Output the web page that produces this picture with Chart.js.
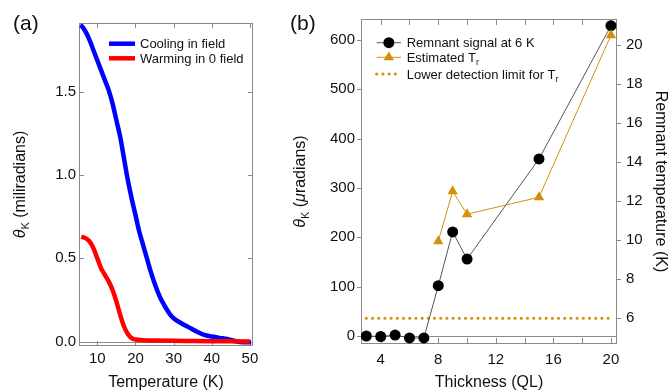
<!DOCTYPE html>
<html>
<head>
<meta charset="utf-8">
<script src="https://cdn.jsdelivr.net/npm/chart.js@4.4.0/dist/chart.umd.min.js"></script>
<style>
  body { margin: 0; background: #fff; }
  #wrap { position: relative; width: 670px; height: 392px; }
  canvas { position: absolute; top: 0; }
</style>
</head>
<body>
<div id="wrap">
  <canvas id="chartA" width="280" height="392" style="left:0"></canvas>
  <canvas id="chartB" width="390" height="392" style="left:280px"></canvas>
</div>
<script>
// ---- panel (a): Kerr rotation vs temperature ----
const tempCooling = [5.5, 6, 7, 8, 9, 10, 11, 12, 13, 14, 15, 16, 17, 18, 19, 20, 21, 22, 23, 24, 25, 26, 27, 28, 29, 30, 32, 34, 36, 38, 40, 42, 44, 46, 48, 50.3];
const coolingSignal = [1.90, 1.895, 1.86, 1.81, 1.75, 1.69, 1.63, 1.57, 1.51, 1.43, 1.33, 1.23, 1.10, 0.97, 0.86, 0.76, 0.66, 0.58, 0.50, 0.42, 0.35, 0.29, 0.24, 0.20, 0.165, 0.14, 0.11, 0.085, 0.06, 0.04, 0.03, 0.022, 0.015, 0.003, -0.004, -0.004];
const tempWarming = [5.8, 7, 8, 9, 10, 11, 12, 13, 14, 15, 16, 17, 18, 19, 20, 22, 25, 30, 35, 40, 45, 50];
const warmingSignal = [0.63, 0.62, 0.60, 0.56, 0.50, 0.44, 0.40, 0.36, 0.31, 0.24, 0.16, 0.09, 0.045, 0.02, 0.012, 0.008, 0.006, 0.004, 0.003, 0.002, 0.001, 0.0];
const seriesLabelsA = ['Cooling in field', 'Warming in 0 field'];
const tempTicks = [10, 20, 30, 40, 50];
const kerrTicksA = [0, 0.5, 1.0, 1.5];

// ---- panel (b): remnant signal vs thickness ----
const thickness = [3, 4, 5, 6, 7, 8, 9, 10, 15, 20];
const remnantSignal = [0, -1, 2, -4, -4, 102, 211, 156, 359, 629];
const trThickness = [8, 9, 10, 15, 20];
const estimatedTr = [9.95, 12.5, 11.33, 12.2, 20.5];
const detectionRange = [3, 20];
const detectionLimit = 6;
const seriesLabelsB = ['Remnant signal at 6 K', 'Estimated T_r', 'Lower detection limit for T_r'];
const thicknessTicks = [4, 6, 8, 10, 12, 14, 16, 18, 20];
const thicknessLabels = ['4', '', '8', '', '12', '', '16', '', '20'];
const remnantTicks = [0, 100, 200, 300, 400, 500, 600];
const trTicks = [6, 8, 10, 12, 14, 16, 18, 20];

const FONT = "'Liberation Sans', Arial, sans-serif";
const GOLD = '#d4900a';
const FRAME = '#8a8a8a';
Chart.defaults.font.family = FONT;
Chart.defaults.color = '#111';

// text with "_x" subscripts and italic greek letters
function runsOf(text) {
  const runs = [];
  for (let i = 0; i < text.length; i++) {
    let ch = text[i], sub = false;
    if (ch === '_') { ch = text[++i]; sub = true; }
    const italic = /[θμ]/.test(ch);
    const last = runs[runs.length - 1];
    if (last && last.sub === sub && last.italic === italic) last.t += ch;
    else runs.push({ t: ch, sub, italic });
  }
  return runs;
}
function drawRich(ctx, text, x, y, size, measureOnly) {
  let cx = x;
  ctx.textBaseline = 'alphabetic';
  ctx.textAlign = 'left';
  ctx.fillStyle = '#111';
  runsOf(text).forEach(r => {
    const fs = r.sub ? Math.round(size * 0.68) : size;
    ctx.font = (r.italic ? 'italic ' : '') + fs + 'px ' + FONT;
    if (!measureOnly) ctx.fillText(r.t, cx, y + (r.sub ? size * 0.28 : 0));
    cx += ctx.measureText(r.t).width;
  });
  return cx - x;
}

function tickList(arr) {
  return scale => { scale.ticks = arr.map(v => ({ value: v })); };
}

// frame, zero line, tick marks, legend, y title and panel letter
function panelPlugin(cfg) {
  return {
    id: 'panel' + cfg.letter,
    beforeDatasetsDraw(chart) {
      const { ctx, chartArea: a } = chart;
      ctx.save();
      ctx.strokeStyle = FRAME;
      ctx.lineWidth = 1;
      ctx.strokeRect(a.left + 0.5, a.top + 0.5, a.width - 1, a.height - 1);
      const yz = Math.round(chart.scales[cfg.zeroAxis].getPixelForValue(0)) + 0.5;
      ctx.beginPath();
      ctx.moveTo(a.left, yz); ctx.lineTo(a.right, yz);
      cfg.marks.forEach(m => {
        const sc = chart.scales[m.axis];
        sc.ticks.forEach(t => {
          const p = Math.round(sc.getPixelForValue(t.value)) + 0.5;
          if (m.side === 'bottom') { ctx.moveTo(p, a.bottom); ctx.lineTo(p, a.bottom - m.len); }
          if (m.side === 'top') { ctx.moveTo(p, a.top); ctx.lineTo(p, a.top + m.len); }
          if (m.side === 'left') { ctx.moveTo(a.left, p); ctx.lineTo(a.left + m.len, p); }
          if (m.side === 'right') { ctx.moveTo(a.right, p); ctx.lineTo(a.right - m.len, p); }
        });
      });
      ctx.stroke();
      ctx.restore();
    },
    afterDraw(chart) {
      const { ctx, chartArea: a } = chart;
      ctx.save();
      // legend
      const lg = cfg.legend;
      chart.data.datasets.forEach((ds, i) => {
        const y = a.top + lg.rows[i];
        ctx.save();
        ctx.strokeStyle = ds.borderColor;
        ctx.lineWidth = ds.borderWidth;
        ctx.lineCap = ds.borderCapStyle || 'butt';
        ctx.setLineDash(ds.borderDash || []);
        ctx.beginPath();
        ctx.moveTo(a.left + lg.x0, y); ctx.lineTo(a.left + lg.x1, y);
        ctx.stroke();
        ctx.restore();
        if (ds.pointRadius > 0) {
          const cx = a.left + (lg.x0 + lg.x1) / 2, r = ds.pointRadius;
          ctx.fillStyle = ds.pointBackgroundColor;
          ctx.beginPath();
          if (ds.pointStyle === 'triangle') {
            ctx.moveTo(cx, y - r);
            ctx.lineTo(cx + r * 0.866, y + r * 0.5);
            ctx.lineTo(cx - r * 0.866, y + r * 0.5);
            ctx.closePath();
          } else {
            ctx.arc(cx, y, r, 0, Math.PI * 2);
          }
          ctx.fill();
        }
        drawRich(ctx, ds.label, a.left + lg.textX, y + 4.5, 13);
      });
      // rotated left title
      ctx.save();
      ctx.translate(cfg.yTitleX, (a.top + a.bottom) / 2);
      ctx.rotate(-Math.PI / 2);
      const w = drawRich(ctx, cfg.yTitle, 0, 0, 16, true);
      drawRich(ctx, cfg.yTitle, -w / 2, 0, 16);
      ctx.restore();
      // panel letter
      ctx.font = '21px ' + FONT;
      ctx.fillStyle = '#111';
      ctx.textBaseline = 'alphabetic';
      ctx.fillText('(' + cfg.letter + ')', cfg.letterX, 30);
      ctx.restore();
    }
  };
}

const tickFont = { size: 15 };
const titleFont = { size: 16 };

new Chart(document.getElementById('chartA'), {
  type: 'line',
  data: {
    datasets: [
      {
        label: seriesLabelsA[0],
        data: tempCooling.map((t, i) => ({ x: t, y: coolingSignal[i] })),
        borderColor: '#0000ff', borderWidth: 4.5, pointRadius: 0,
        cubicInterpolationMode: 'monotone', order: 1
      },
      {
        label: seriesLabelsA[1],
        data: tempWarming.map((t, i) => ({ x: t, y: warmingSignal[i] })),
        borderColor: '#ff0000', borderWidth: 4.5, pointRadius: 0,
        cubicInterpolationMode: 'monotone', order: 0
      }
    ]
  },
  options: {
    responsive: false, animation: false, events: [], devicePixelRatio: 1,
    layout: { padding: { left: 0, right: 27, top: 23, bottom: 0 } },
    plugins: { legend: { display: false }, tooltip: { enabled: false } },
    scales: {
      x: {
        type: 'linear', min: 5.2, max: 50.8,
        afterBuildTicks: tickList(tempTicks),
        afterFit: s => { s.height = 46; },
        grid: { display: false, drawTicks: false }, border: { display: false },
        ticks: { font: tickFont, padding: 4, maxRotation: 0, autoSkip: false },
        title: { display: true, text: 'Temperature (K)', font: titleFont, padding: 0 }
      },
      y: {
        min: -0.027, max: 1.915,
        afterBuildTicks: tickList(kerrTicksA),
        afterFit: s => { s.width = 79; },
        grid: { display: false, drawTicks: false }, border: { display: false },
        ticks: { font: tickFont, padding: 3, autoSkip: false, callback: v => v.toFixed(1) }
      }
    }
  },
  plugins: [panelPlugin({
    letter: 'a', letterX: 13, zeroAxis: 'y', yTitle: 'θ_K (miliradians)', yTitleX: 25,
    marks: [
      { axis: 'x', side: 'bottom', len: 5 }, { axis: 'x', side: 'top', len: 5 },
      { axis: 'y', side: 'left', len: 5 }, { axis: 'y', side: 'right', len: 5 }
    ],
    legend: { x0: 30, x1: 56, textX: 61, rows: [20.7, 35.3] }
  })]
});

new Chart(document.getElementById('chartB'), {
  type: 'line',
  data: {
    datasets: [
      {
        label: seriesLabelsB[0],
        data: thickness.map((t, i) => ({ x: t, y: remnantSignal[i] })),
        yAxisID: 'y', borderColor: '#555', borderWidth: 1,
        pointStyle: 'circle', pointRadius: 5.5, pointBackgroundColor: '#000',
        pointBorderColor: '#000', pointBorderWidth: 0, order: 1
      },
      {
        label: seriesLabelsB[1],
        data: trThickness.map((t, i) => ({ x: t, y: estimatedTr[i] })),
        yAxisID: 'y1', borderColor: GOLD, borderWidth: 1,
        pointStyle: 'triangle', pointRadius: 6, pointBackgroundColor: GOLD,
        pointBorderColor: GOLD, pointBorderWidth: 0, order: 0
      },
      {
        label: seriesLabelsB[2],
        data: detectionRange.map(t => ({ x: t, y: detectionLimit })),
        yAxisID: 'y1', borderColor: GOLD, borderWidth: 3.2,
        borderDash: [0, 6.2], borderCapStyle: 'round', pointRadius: 0, order: 2
      }
    ]
  },
  options: {
    responsive: false, animation: false, events: [], devicePixelRatio: 1,
    layout: { padding: { left: 0, right: 0, top: 19, bottom: 0 } },
    plugins: { legend: { display: false }, tooltip: { enabled: false } },
    scales: {
      x: {
        type: 'linear', min: 2.63, max: 20.42,
        afterBuildTicks: tickList(thicknessTicks),
        afterFit: s => { s.height = 48; },
        grid: { display: false, drawTicks: false }, border: { display: false },
        ticks: { font: tickFont, padding: 7, maxRotation: 0, autoSkip: false,
                 callback: (v, i) => thicknessLabels[i] },
        title: { display: true, text: 'Thickness (QL)', font: titleFont, padding: 0 }
      },
      y: {
        position: 'left', min: -16.2, max: 642.6,
        afterBuildTicks: tickList(remnantTicks),
        afterFit: s => { s.width = 81; },
        grid: { display: false, drawTicks: false }, border: { display: false },
        ticks: { font: tickFont, padding: 6, autoSkip: false }
      },
      y1: {
        position: 'right', min: 4.68, max: 21.33,
        afterBuildTicks: tickList(trTicks),
        afterFit: s => { s.width = 53; },
        grid: { display: false, drawTicks: false }, border: { display: false },
        ticks: { font: tickFont, padding: 9, autoSkip: false },
        title: { display: true, text: 'Remnant temperature (K)', font: titleFont, padding: 0 }
      }
    }
  },
  plugins: [panelPlugin({
    letter: 'b', letterX: 10, zeroAxis: 'y', yTitle: 'θ_K (μradians)', yTitleX: 25,
    marks: [
      { axis: 'x', side: 'bottom', len: 6 }, { axis: 'x', side: 'top', len: 6 },
      { axis: 'y', side: 'left', len: -4 }, { axis: 'y1', side: 'right', len: -4 }
    ],
    legend: { x0: 15.7, x1: 40, textX: 45.7, rows: [23.7, 38.3, 55] }
  })]
});
</script>
</body>
</html>
